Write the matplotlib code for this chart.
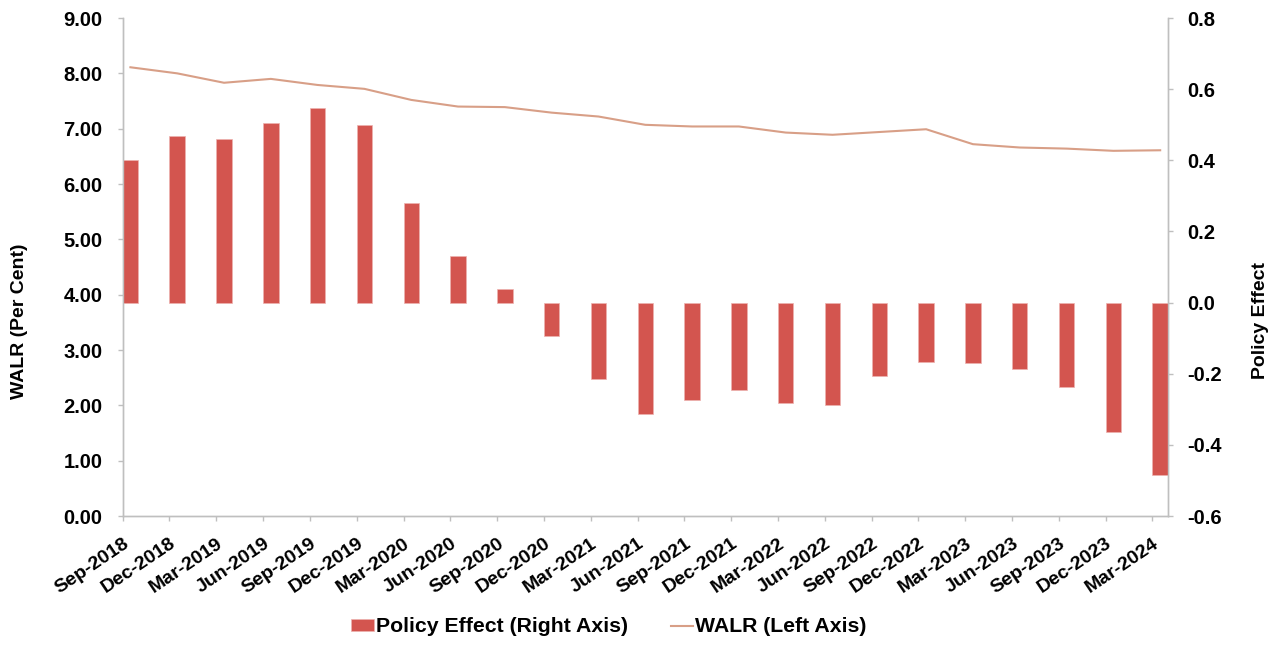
import matplotlib
matplotlib.use('Agg')
import matplotlib.pyplot as plt
import numpy as np

# 季度标签
quarters = ['Sep-2018', 'Dec-2018', 'Mar-2019', 'Jun-2019', 'Sep-2019', 'Dec-2019',
            'Mar-2020', 'Jun-2020', 'Sep-2020', 'Dec-2020', 'Mar-2021', 'Jun-2021',
            'Sep-2021', 'Dec-2021', 'Mar-2022', 'Jun-2022', 'Sep-2022', 'Dec-2022',
            'Mar-2023', 'Jun-2023', 'Sep-2023', 'Dec-2023', 'Mar-2024']

# 政策效应（右轴）
policy_effect = [0.402, 0.469, 0.461, 0.506, 0.548, 0.500, 0.281, 0.132, 0.039,
                 -0.093, -0.214, -0.312, -0.273, -0.247, -0.281, -0.287, -0.205,
                 -0.166, -0.169, -0.188, -0.236, -0.365, -0.486]

# WALR（左轴）
walr = [8.11, 8.00, 7.83, 7.90, 7.79, 7.72, 7.52, 7.40, 7.39, 7.29, 7.22, 7.07,
        7.04, 7.04, 6.93, 6.89, 6.94, 6.99, 6.72, 6.66, 6.64, 6.60, 6.61]

plt.rcParams['font.family'] = ['Liberation Sans', 'DejaVu Sans']
plt.rcParams['font.weight'] = 'bold'
plt.rcParams['font.size'] = 14

bar_color = '#D3554F'
line_color = '#D89F87'
axis_grey = '#BFBFBF'

fig = plt.figure(figsize=(12.82, 6.46), dpi=100)
ax1 = fig.add_axes([0.0957, 0.2012, 0.8153, 0.7709])
ax2 = ax1.twinx()

x = np.arange(len(quarters))
bw = 0.33

ax2.bar(x, policy_effect, width=bw, align='edge', color=bar_color,
        edgecolor='#EDB3B0', linewidth=0.5, label='Policy Effect (Right Axis)')
ax1.plot(x + bw / 2, walr, color=line_color, linewidth=1.5, label='WALR (Left Axis)')

ax1.set_xlim(0, len(quarters) - 1 + bw)
ax1.set_ylim(0, 9)
ax2.set_ylim(-0.6, 0.8)
ax1.set_yticks(np.arange(0, 9.01, 1))
ax1.set_yticklabels(['%.2f' % v for v in np.arange(0, 9.01, 1)], fontsize=14.5)
ax2.set_yticks(np.arange(-0.6, 0.81, 0.2))
ax2.set_yticklabels(['%.1f' % v for v in np.arange(-0.6, 0.81, 0.2)], fontsize=14.5)

ax1.set_xticks(x)
ax1.set_xticklabels(quarters, rotation=34, ha='right', va='top',
                    rotation_mode='anchor', fontsize=14)

for a in (ax1, ax2):
    a.spines['top'].set_visible(False)
    for side in ('left', 'right', 'bottom'):
        a.spines[side].set_color(axis_grey)
        a.spines[side].set_linewidth(1.0)
    a.tick_params(axis='both', color=axis_grey, length=3.6, width=1.0, direction='out')
ax1.tick_params(axis='y', pad=11)
ax2.tick_params(axis='y', pad=10.5)
ax1.tick_params(axis='x', pad=10)

ax1.set_ylabel('WALR (Per Cent)', fontweight='bold', fontsize=14)
ax2.set_ylabel('Policy Effect', fontweight='bold', fontsize=14)
ax1.yaxis.set_label_coords(-0.0906, 0.392)
ax2.yaxis.set_label_coords(1.0801, 0.392)

h2, l2 = ax2.get_legend_handles_labels()
h1, l1 = ax1.get_legend_handles_labels()
fig.legend(h2 + h1, l2 + l1, loc='center', bbox_to_anchor=(609 / 1282, 1 - 627 / 646),
           ncol=2, frameon=False, handlelength=1.05, handleheight=0.5,
           handletextpad=0.12, columnspacing=2.0, fontsize=15.3)

fig.savefig('out.png', dpi=100)
